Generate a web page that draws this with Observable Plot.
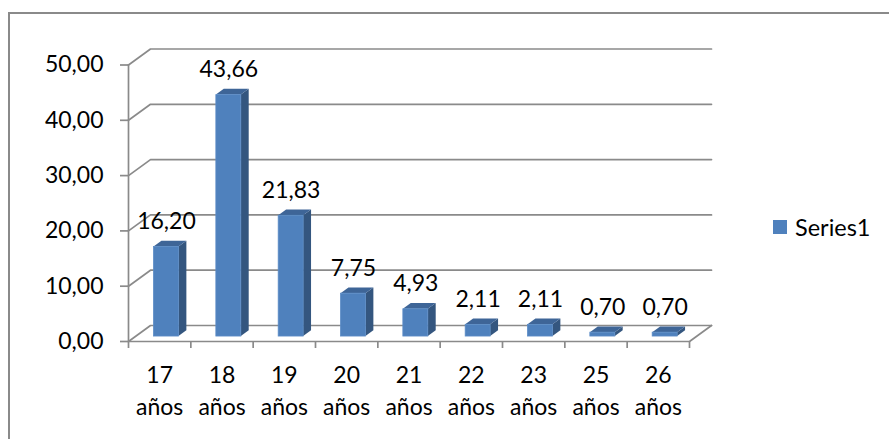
<!DOCTYPE html>
<html>
<head>
<meta charset="utf-8">
<script src="https://cdn.jsdelivr.net/npm/d3@7"></script>
<script src="https://cdn.jsdelivr.net/npm/@observablehq/plot@0.6"></script>
<style>
  html, body { margin: 0; padding: 0; background: #fff; overflow: hidden; }
  #wrap { position: relative; width: 889px; height: 439px; overflow: hidden; font-family: Lato, "Open Sans", sans-serif; }
  #frame { position: absolute; left: 8px; top: 12px; width: 1000px; height: 600px; border: 2px solid #8a8a8a; box-sizing: border-box; }
  #chart { position: absolute; left: 0; top: 0; }
  #legend { position: absolute; left: 773px; top: 213px; display: flex; align-items: center; font-size: 23.5px; color: #000; }
  #legend .sw { width: 14px; height: 14px; background: #4F81BD; margin-right: 8px; }
</style>
</head>
<body>
<div id="wrap">
  <div id="frame"></div>
  <div id="chart"></div>
  <div id="legend"><span class="sw"></span><span>Series1</span></div>
</div>
<script>
const categories = ["17 años", "18 años", "19 años", "20 años", "21 años", "22 años", "23 años", "25 años", "26 años"];
const values = [16.20, 43.66, 21.83, 7.75, 4.93, 2.11, 2.11, 0.70, 0.70];
const yTicks = [0, 10, 20, 30, 40, 50];
const seriesName = "Series1";

const fmt = v => v.toFixed(2).replace(".", ",");

const W = 889, H = 439;
const pLeft = 128, pRight = 689, pTop = 64.5, pBottom = 341;
const pxPerX = (pRight - pLeft) / 9;
const pxPerY = (pBottom - pTop) / 50;
const DX = 22 / pxPerX, DY = 16 / pxPerY;   // oblique depth in data units
const f1 = 0.31, f2 = 0.67, hw = 0.2;       // bar depth and half width
const FS = 23;

const n = categories.length;
const bars = values.map((v, i) => ({i, v, label: fmt(v)}));

const grid = [];
for (const t of yTicks) {
  grid.push({t, x: -0.5, y: t});
  grid.push({t, x: -0.5 + DX, y: t + DY});
  grid.push({t, x: n - 0.5 + DX, y: t + DY});
}
const floor = [
  {x: -0.5, y: 0}, {x: n - 0.5, y: 0}, {x: n - 0.5 + DX, y: DY}
];

const side = [], topFace = [];
for (const b of bars) {
  side.push({i: b.i, x: b.i + hw + f1 * DX, y1: f1 * DY, y2: b.v + f1 * DY});
  side.push({i: b.i, x: b.i + hw + f2 * DX, y1: f2 * DY, y2: b.v + f2 * DY});
  topFace.push({i: b.i, y: b.v + f1 * DY, x1: b.i - hw + f1 * DX, x2: b.i + hw + f1 * DX});
  topFace.push({i: b.i, y: b.v + f2 * DY, x1: b.i - hw + f2 * DX, x2: b.i + hw + f2 * DX});
}
const xBounds = d3.range(n + 1).map(k => k - 0.5);

const chart = Plot.plot({
  width: W, height: H,
  marginLeft: pLeft, marginRight: W - pRight, marginTop: pTop, marginBottom: H - pBottom,
  style: {fontFamily: "Lato, 'Open Sans', sans-serif", fontSize: FS + "px", color: "#000", background: "transparent", overflow: "visible"},
  x: {domain: [-0.5, n - 0.5], axis: null},
  y: {domain: [0, 50], axis: null},
  marks: [
    Plot.line(grid, {x: "x", y: "y", z: "t", stroke: "#8a8a8a", strokeWidth: 1.7}),
    Plot.line(floor, {x: "x", y: "y", stroke: "#8a8a8a", strokeWidth: 1.7}),
    Plot.ruleX([-0.5], {y1: 0, y2: 50, stroke: "#8a8a8a", strokeWidth: 1.7}),
    Plot.axisY({ticks: yTicks, tickSize: 8, tickPadding: 17, tickFormat: fmt, stroke: "#8a8a8a", fill: "#000", strokeWidth: 1.7, fontSize: FS}),
    Plot.axisX({ticks: xBounds, tickSize: 7, tickFormat: () => "", stroke: "#8a8a8a", strokeWidth: 1.7}),
    Plot.text(categories, {x: (d, i) => i, y: 0, dy: 47, text: d => d.replace(" ", "\n"), lineAnchor: "middle", lineHeight: 1.39, fontSize: FS, fill: "#000"}),
    Plot.areaY(side, {x: "x", y1: "y1", y2: "y2", z: "i", fill: "#34567F", curve: "linear"}),
    Plot.areaX(topFace, {y: "y", x1: "x1", x2: "x2", z: "i", fill: "#3E6597", curve: "linear"}),
    Plot.rect(bars, {x1: d => d.i - hw + f1 * DX, x2: d => d.i + hw + f1 * DX, y1: f1 * DY, y2: d => d.v + f1 * DY, fill: "#4F81BD", stroke: "#5B8CC6", strokeWidth: 0.8}),
    Plot.text(bars, {x: d => d.i + f1 * DX, y: d => d.v + f1 * DY, dy: -25.5, text: "label", fontSize: FS, fill: "#000"})
  ]
});
document.getElementById("chart").appendChild(chart);
</script>
</body>
</html>
